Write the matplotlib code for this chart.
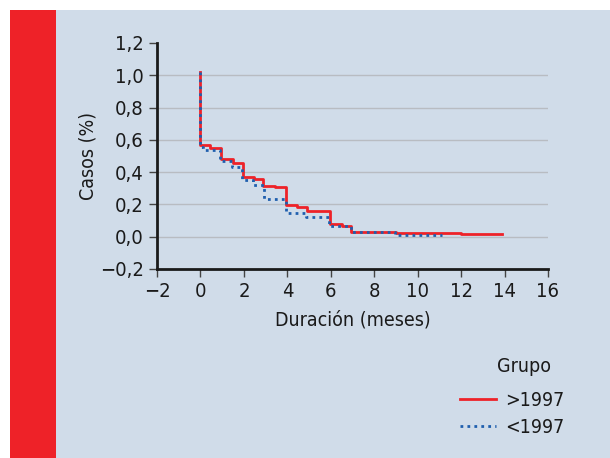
import matplotlib.pyplot as plt
from matplotlib.patches import Rectangle

plt.rcParams['font.family'] = ['DejaVu Sans']
plt.rcParams['font.stretch'] = 'condensed'

# step curves (time in months, proportion of cases)
t_new = [0, 0, 0.46, 0.95, 1.49, 1.95, 2.45, 2.9, 3.45, 3.95, 4.45, 4.9, 5.95, 6.5, 6.95, 9.0, 12.0, 13.9]
y_new = [1.02, 0.57, 0.55, 0.48, 0.456, 0.37, 0.36, 0.314, 0.307, 0.194, 0.184, 0.161, 0.08, 0.068, 0.029, 0.023, 0.017, 0.017]

t_old = [0, 0, 0.1, 0.92, 1.43, 1.92, 2.4, 2.92, 3.95, 4.85, 5.9, 6.95, 8.95, 11.1]
y_old = [1.02, 0.555, 0.54, 0.466, 0.43, 0.353, 0.32, 0.231, 0.15, 0.122, 0.064, 0.029, 0.008, 0.008]

bg = '#d0dce9'
red = '#ee2228'
blue = '#1f5fae'
ink = '#1a1a1a'

fig = plt.figure(figsize=(6.1, 4.58), dpi=100)
fig.patch.set_facecolor('white')
fig.patches.append(Rectangle((10 / 610, 0), 600 / 610, 448 / 458, transform=fig.transFigure,
                             facecolor=bg, edgecolor='none', zorder=-10))
fig.patches.append(Rectangle((10 / 610, 0), 46 / 610, 448 / 458, transform=fig.transFigure,
                             facecolor=red, edgecolor='none', zorder=-9))

ax = fig.add_axes([157 / 610, 1 - 269 / 458, 391 / 610, 226 / 458])
ax.set_facecolor(bg)
ax.set_xlim(-2, 16)
ax.set_ylim(-0.2, 1.2)

for g in [0.0, 0.2, 0.4, 0.6, 0.8, 1.0]:
    ax.axhline(g, color='#b8bcc2', lw=1, zorder=0)

ax.step(t_new, y_new, where='post', color=red, lw=2, label='>1997', zorder=3)
ax.step(t_old, y_old, where='post', color=blue, lw=2, ls=(0, (1, 1.5)), label='<1997', zorder=4)

ax.set_xticks(range(-2, 17, 2))
ax.set_xticklabels(['\u22122' if v == -2 else str(v) for v in range(-2, 17, 2)])
yt = [-0.2, 0.0, 0.2, 0.4, 0.6, 0.8, 1.0, 1.2]
ax.set_yticks(yt)
ax.set_yticklabels([('\u2212' if v < 0 else '') + f'{abs(v):.1f}'.replace('.', ',') for v in yt])

for s in ['top', 'right']:
    ax.spines[s].set_visible(False)
for s in ['left', 'bottom']:
    ax.spines[s].set_linewidth(2)
    ax.spines[s].set_color(ink)
ax.tick_params(direction='out', length=6, width=1, color='#444444', labelsize=14.5, labelcolor=ink)

ax.set_xlabel('Duración (meses)', fontsize=14, color=ink, labelpad=7)
ax.set_ylabel('Casos (%)', fontsize=14, color=ink, labelpad=2)

fig.text(497 / 610, 1 - 366 / 458, 'Grupo', fontsize=14, color=ink, va='center', ha='left')
leg = fig.legend(loc='upper left', bbox_to_anchor=(442 / 610, 1 - 373 / 458),
                 frameon=False, fontsize=14, handlelength=1.9,
                 labelspacing=0.45, handletextpad=0.45)
for txt in leg.get_texts():
    txt.set_color(ink)

fig.savefig('out.png', dpi=100)
